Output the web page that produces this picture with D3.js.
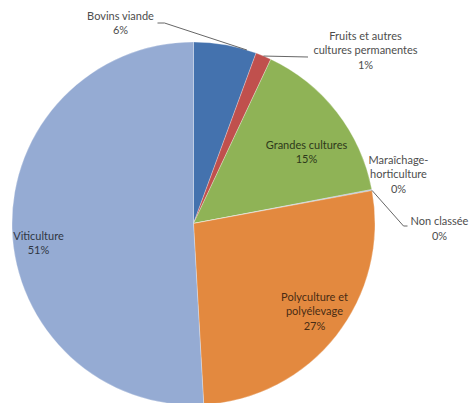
<!DOCTYPE html>
<html>
<head>
<meta charset="utf-8">
<script src="https://cdn.jsdelivr.net/npm/d3@7"></script>
<style>
  body { margin: 0; background: #fff; }
  text { font-family: Lato, "Open Sans", sans-serif; font-size: 11px; }
</style>
</head>
<body>
<div id="pie"></div>
<script>
const categories = ["Bovins viande", "Fruits et autres cultures permanentes", "Grandes cultures",
    "Maraîchage-horticulture", "Non classée", "Polyculture et polyélevage", "Viticulture"];
const shares = [5.6, 1.4, 15.0, 0.05, 0.05, 27.0, 50.9];
const labelLines = [["Bovins viande"], ["Fruits et autres", "cultures permanentes"], ["Grandes cultures"],
    ["Maraîchage-", "horticulture"], ["Non classée"], ["Polyculture et", "polyélevage"], ["Viticulture"]];
const colors = ["#4472ae", "#c0504d", "#8fb356", "#8064a2", "#4bacc6", "#e3893f", "#95abd3"];

const width = 472, height = 403,
    cx = 193.5, cy = 223.5, radius = 181.5,
    format = d3.format(".0%");

const svg = d3.select("#pie").append("svg")
    .attr("width", width)
    .attr("height", height);

const data = categories.map((c, i) => ({ name: c, value: shares[i], lines: labelLines[i], color: colors[i] }));
const total = d3.sum(shares);

const pie = d3.pie().sort(null).value(d => d.value);
const arc = d3.arc().innerRadius(0).outerRadius(radius);

const g = svg.append("g").attr("transform", "translate(" + cx + "," + cy + ")");
const arcs = pie(data);

g.selectAll("path")
    .data(arcs)
  .enter().append("path")
    .attr("d", arc)
    .attr("fill", d => d.data.color)
    .attr("stroke", "rgba(255,255,255,0.45)")
    .attr("stroke-width", 0.6);

// point on the rim of a slice, t = 0..1 along its angle
function rim(a, t) {
  const ang = a.startAngle + t * (a.endAngle - a.startAngle);
  return [radius * Math.sin(ang), -radius * Math.cos(ang)];
}

// label placement (Excel "best fit" style), relative to the pie centre
const place = {
  "Bovins viande": { x: -73, y: -204, at: 0.85, lead: [[-36, -200.5], [-29, -200.5]] },
  "Fruits et autres cultures permanentes": { x: 172, y: -184, at: 0.5, lead: [[114.5, -166.5]] },
  "Grandes cultures": { x: 113, y: -75, inside: true },
  "Maraîchage-horticulture": { x: 205, y: -60 },
  "Non classée": { x: 246, y: 1.5, at: 0.5, lead: [[214, 2.5], [210, 2.5]] },
  "Polyculture et polyélevage": { x: 121, y: 77, inside: true },
  "Viticulture": { x: -155, y: 16, inside: true }
};

const lineH = 14.6;

arcs.forEach(a => {
  const p = place[a.data.name];
  const fill = p.inside ? d3.color(a.data.color).darker(3.2).formatHex() : "#4d4d4d";
  const lines = a.data.lines.concat([format(a.data.value / total)]);

  if (p.lead) {
    const pts = [rim(a, p.at)].concat(p.lead.slice().reverse());
    g.append("path")
      .attr("d", d3.line()(pts))
      .attr("fill", "none")
      .attr("stroke", "#555")
      .attr("stroke-width", 0.9);
  }

  const t = g.append("text")
      .attr("text-anchor", "middle")
      .attr("fill", fill);
  lines.forEach((l, i) => {
    t.append("tspan")
      .attr("x", p.x)
      .attr("y", p.y + i * lineH)
      .text(l);
  });
});
</script>
</body>
</html>
